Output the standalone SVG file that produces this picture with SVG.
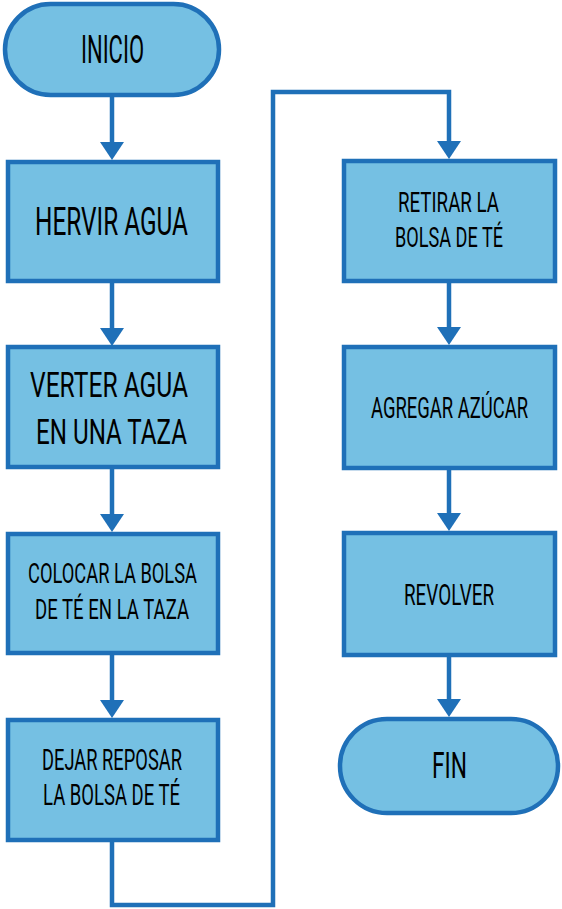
<svg xmlns="http://www.w3.org/2000/svg" width="562" height="909" viewBox="0 0 562 909">
<defs>
<style>
.box{fill:#75c0e3;stroke:#1f70b8;stroke-width:4.5}
.edge{fill:none;stroke:#1f70b8;stroke-width:4.5}
.head{fill:#1f70b8}
.t{font-family:Roboto,"Liberation Sans",sans-serif;font-weight:400;fill:#000;text-anchor:middle}
</style>
</defs>
<g id="connectors">
<path class="edge" d="M112 95 V144"/>
<polygon class="head" points="100,142 124,142 112,160"/>
<path class="edge" d="M112 281 V330"/>
<polygon class="head" points="100,328 124,328 112,346"/>
<path class="edge" d="M112 467 V516"/>
<polygon class="head" points="100,514 124,514 112,532"/>
<path class="edge" d="M112 653 V702"/>
<polygon class="head" points="100,700 124,700 112,718"/>
<path class="edge" d="M112 840 V905 H273 V92 H449 V143"/>
<polygon class="head" points="437,141 461,141 449,159"/>
<path class="edge" d="M449 281 V329"/>
<polygon class="head" points="437,327 461,327 449,345"/>
<path class="edge" d="M449 468 V515"/>
<polygon class="head" points="437,513 461,513 449,531"/>
<path class="edge" d="M449 655 V701"/>
<polygon class="head" points="437,699 461,699 449,717"/>
</g>
<g id="inicio">
<rect class="box" x="5" y="4" width="214" height="91" rx="45.5"/>
<text class="t" x="112.5" y="63" font-size="39" textLength="63" lengthAdjust="spacingAndGlyphs">INICIO</text>
</g>
<g id="hervir">
<rect class="box" x="8" y="162" width="210" height="119"/>
<text class="t" x="111.5" y="235" font-size="39" textLength="153" lengthAdjust="spacingAndGlyphs">HERVIR AGUA</text>
</g>
<g id="verter">
<rect class="box" x="8" y="347" width="210" height="120"/>
<text class="t" x="109" y="397" font-size="35" textLength="158" lengthAdjust="spacingAndGlyphs">VERTER AGUA</text>
<text class="t" x="111.5" y="444" font-size="35" textLength="151" lengthAdjust="spacingAndGlyphs">EN UNA TAZA</text>
</g>
<g id="colocar">
<rect class="box" x="8" y="534" width="210" height="119"/>
<text class="t" x="112.5" y="583" font-size="28.5" textLength="169" lengthAdjust="spacingAndGlyphs">COLOCAR LA BOLSA</text>
<text class="t" x="112" y="619" font-size="28.5" textLength="154" lengthAdjust="spacingAndGlyphs">DE TÉ EN LA TAZA</text>
</g>
<g id="dejar">
<rect class="box" x="8" y="720" width="210" height="120"/>
<text class="t" x="112" y="770" font-size="29" textLength="140" lengthAdjust="spacingAndGlyphs">DEJAR REPOSAR</text>
<text class="t" x="111.5" y="805" font-size="29" textLength="137" lengthAdjust="spacingAndGlyphs">LA BOLSA DE TÉ</text>
</g>
<g id="retirar">
<rect class="box" x="344" y="161" width="211" height="120"/>
<text class="t" x="448.5" y="212" font-size="28" textLength="101" lengthAdjust="spacingAndGlyphs">RETIRAR LA</text>
<text class="t" x="449" y="247" font-size="28" textLength="108" lengthAdjust="spacingAndGlyphs">BOLSA DE TÉ</text>
</g>
<g id="agregar">
<rect class="box" x="344" y="347" width="211" height="121"/>
<text class="t" x="449.5" y="418" font-size="29" textLength="157" lengthAdjust="spacingAndGlyphs">AGREGAR AZÚCAR</text>
</g>
<g id="revolver">
<rect class="box" x="344" y="533" width="211" height="122"/>
<text class="t" x="449" y="605" font-size="30" textLength="90" lengthAdjust="spacingAndGlyphs">REVOLVER</text>
</g>
<g id="fin">
<rect class="box" x="340" y="719" width="218" height="94" rx="47"/>
<text class="t" x="449.5" y="778" font-size="36" textLength="35" lengthAdjust="spacingAndGlyphs">FIN</text>
</g>
</svg>
